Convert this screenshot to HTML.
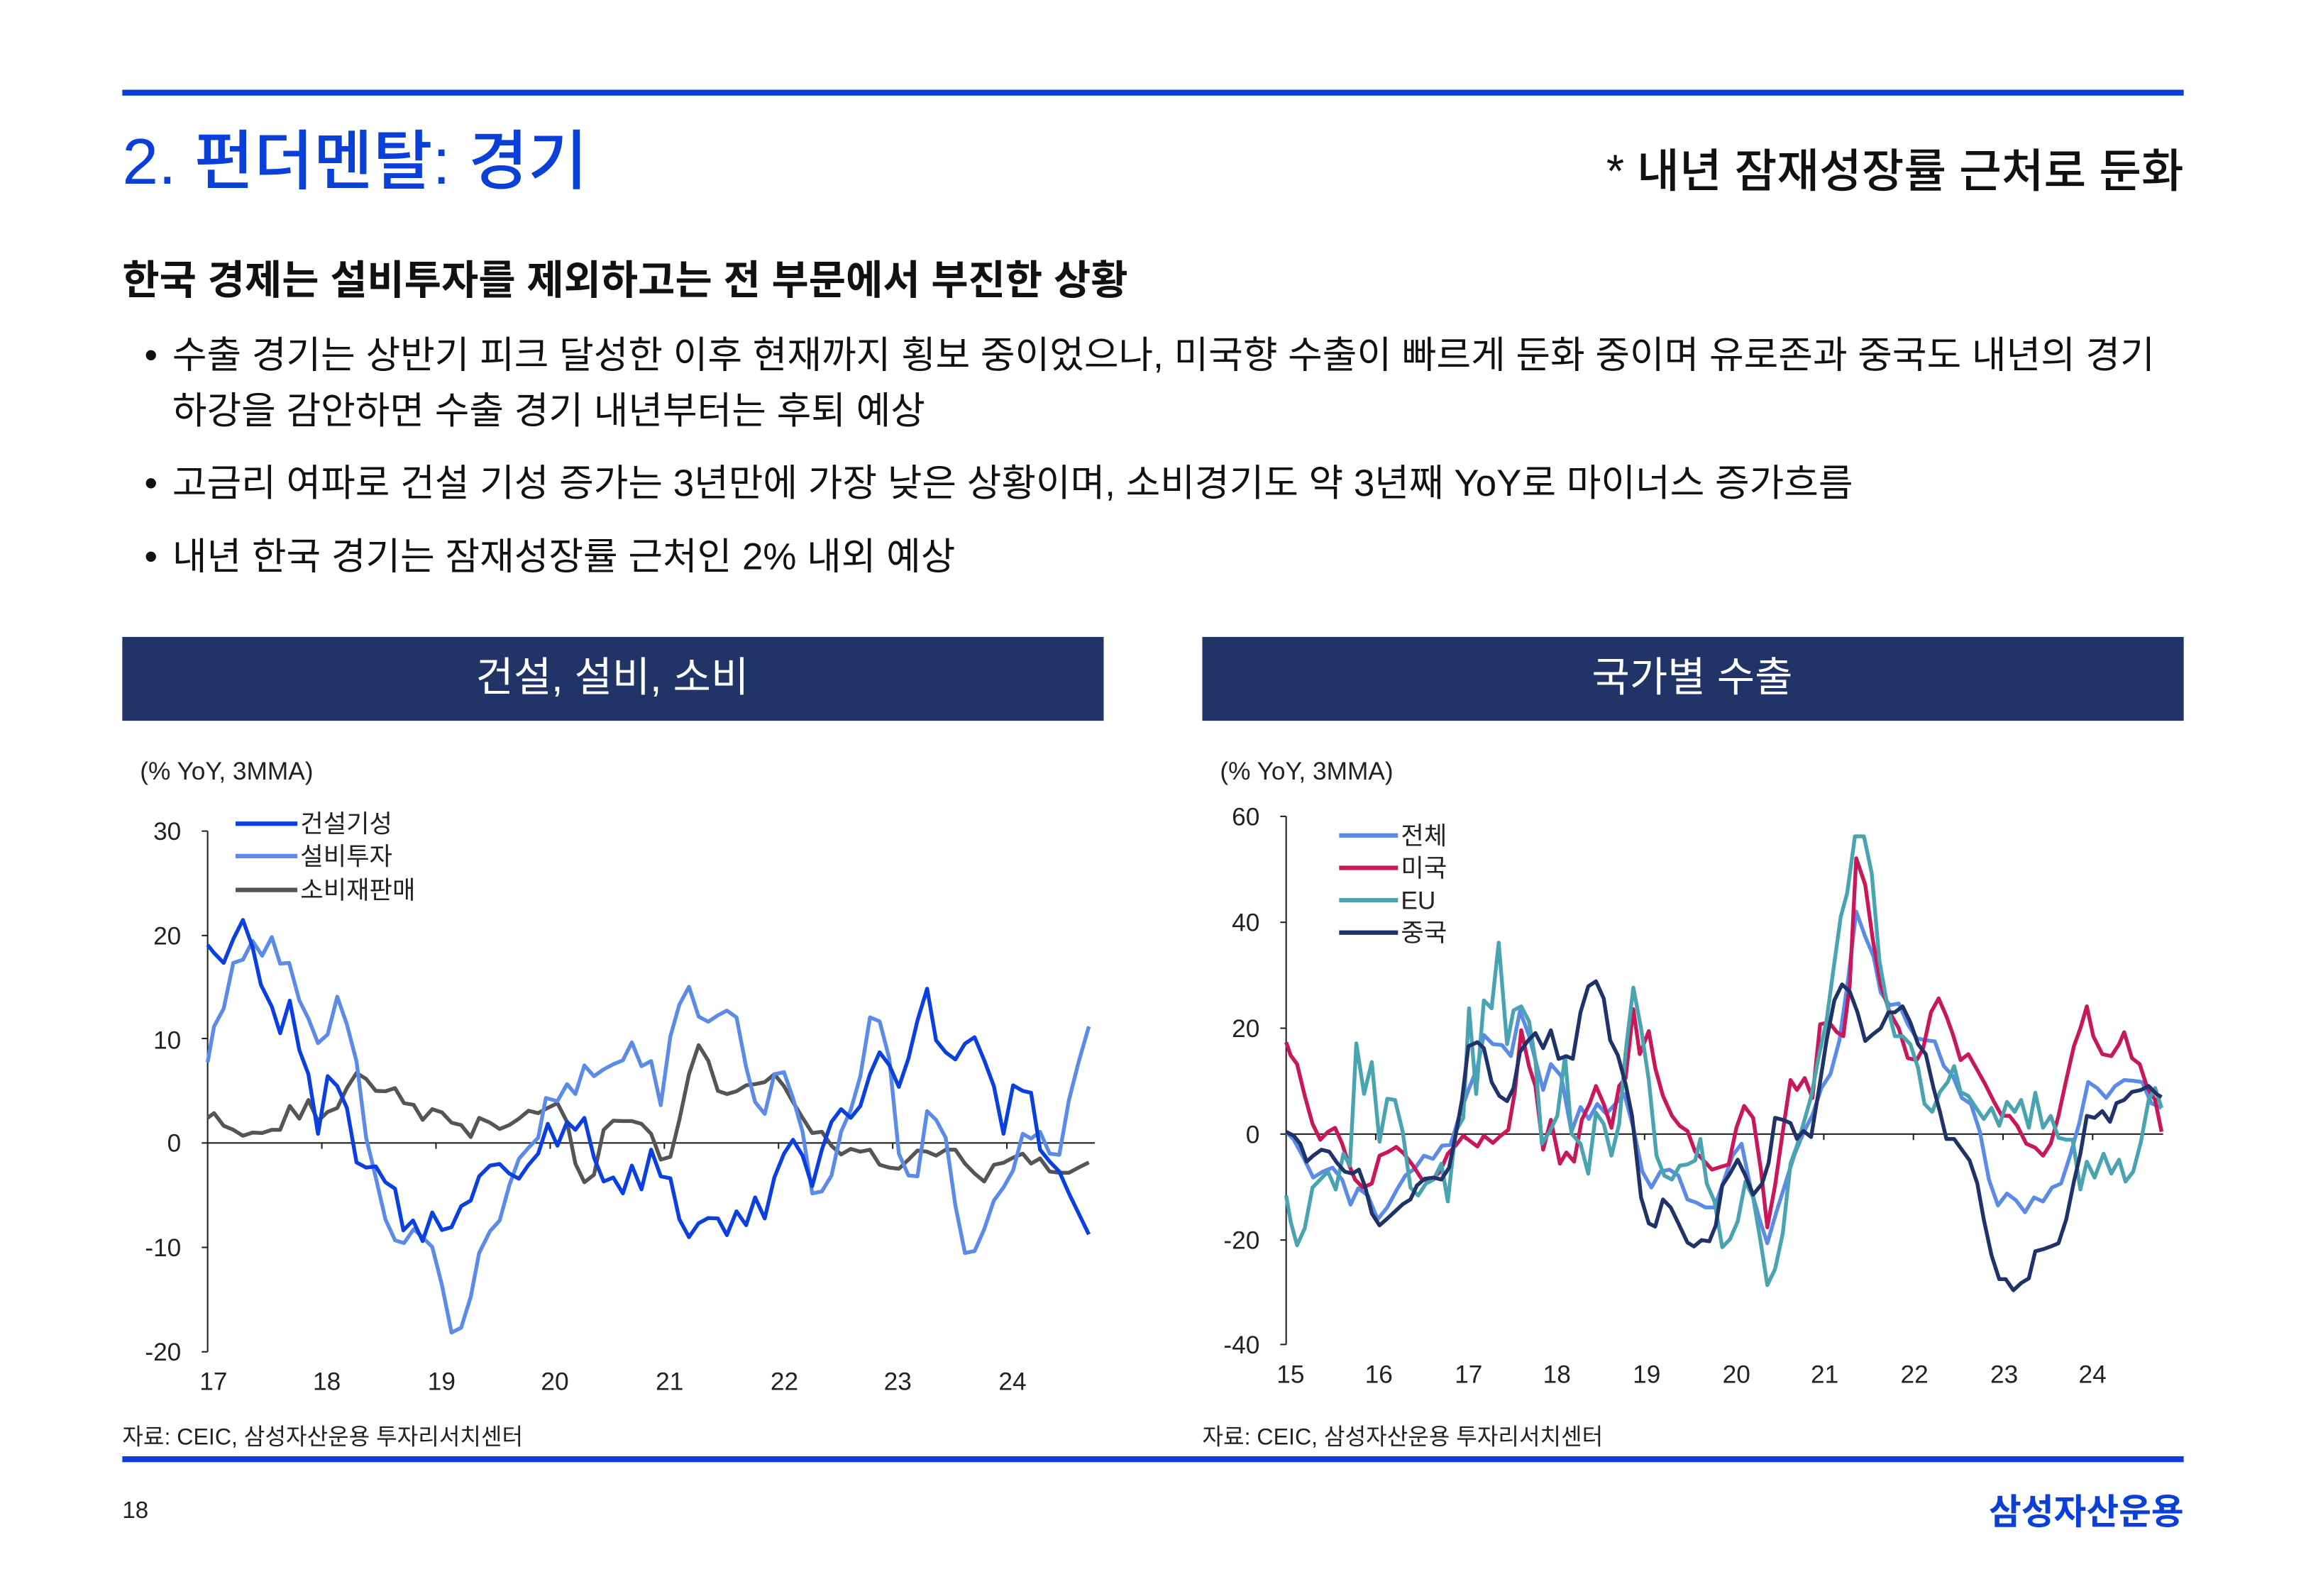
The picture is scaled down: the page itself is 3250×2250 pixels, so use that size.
<!DOCTYPE html>
<html><head><meta charset="utf-8"><style>
html,body{margin:0;padding:0;background:#fff}
svg{display:block}
text{font-family:"Liberation Sans","Noto Sans CJK KR",sans-serif}
</style></head><body>
<svg width="3250" height="2250" viewBox="0 0 1567 1085" xmlns="http://www.w3.org/2000/svg">
<rect width="1567" height="1085" fill="#fff"/>
<rect x="83" y="61" width="1401" height="4" fill="#0a3fd8"/>
<text x="83" y="125" font-size="44" fill="#0a3fd8" font-weight="500">2. 펀더멘탈: 경기</text>
<text x="1484" y="127" font-size="31.3" fill="#111" text-anchor="end" font-weight="500">* 내년 잠재성장률 근처로 둔화</text>
<text x="83" y="200" font-size="27.4" fill="#111" font-weight="600">한국 경제는 설비투자를 제외하고는 전 부문에서 부진한 상황</text>
<g font-size="25.5" fill="#111">
<text x="98" y="250">•</text><text x="117" y="250">수출 경기는 상반기 피크 달성한 이후 현재까지 횡보 중이었으나, 미국향 수출이 빠르게 둔화 중이며 유로존과 중국도 내년의 경기</text>
<text x="117" y="288">하강을 감안하면 수출 경기 내년부터는 후퇴 예상</text>
<text x="98" y="337">•</text><text x="117" y="337">고금리 여파로 건설 기성 증가는 3년만에 가장 낮은 상황이며, 소비경기도 약 3년째 YoY로 마이너스 증가흐름</text>
<text x="98" y="387">•</text><text x="117" y="387">내년 한국 경기는 잠재성장률 근처인 2% 내외 예상</text>
</g>
<rect x="83" y="433" width="667" height="57" fill="#213468"/>
<rect x="817" y="433" width="667" height="57" fill="#213468"/>
<text x="416" y="470" font-size="28" fill="#fff" text-anchor="middle">건설, 설비, 소비</text>
<text x="1150" y="470" font-size="28" fill="#fff" text-anchor="middle">국가별 수출</text>

<!-- LEFT CHART -->
<g font-size="17" fill="#222">
<text x="95" y="530">(% YoY, 3MMA)</text>
<g text-anchor="end"><text x="123" y="571">30</text><text x="123" y="642">20</text><text x="123" y="713">10</text><text x="123" y="783">0</text><text x="123" y="854">-10</text><text x="123" y="925">-20</text></g>
<g text-anchor="middle"><text x="145" y="945">17</text><text x="222" y="945">18</text><text x="300" y="945">19</text><text x="377" y="945">20</text><text x="455" y="945">21</text><text x="533" y="945">22</text><text x="610" y="945">23</text><text x="688" y="945">24</text></g>
</g>
<g stroke="#222" stroke-width="1">
<line x1="141" y1="565" x2="141" y2="919"/>
<line x1="137" y1="565" x2="141" y2="565"/><line x1="137" y1="636" x2="141" y2="636"/><line x1="137" y1="706" x2="141" y2="706"/><line x1="137" y1="848" x2="141" y2="848"/><line x1="137" y1="919" x2="141" y2="919"/>
<line x1="137" y1="777" x2="744" y2="777"/>
<line x1="218.6" y1="777" x2="218.6" y2="781"/><line x1="296.2" y1="777" x2="296.2" y2="781"/><line x1="373.8" y1="777" x2="373.8" y2="781"/><line x1="451.4" y1="777" x2="451.4" y2="781"/><line x1="529" y1="777" x2="529" y2="781"/><line x1="606.6" y1="777" x2="606.6" y2="781"/><line x1="684.2" y1="777" x2="684.2" y2="781"/>
</g>
<g fill="none" stroke-width="5.4" stroke-linejoin="round" transform="translate(82.11,530.3) scale(0.4362,0.2702)">
<polyline vector-effect="non-scaling-stroke" stroke="#555" points="135,850 145,838 160,870 175,880 190,895 205,887 220,888 235,880 248,880 263,820 278,852 292,805 307,858 322,835 337,825 352,775 367,737 382,752 397,782 412,783 427,775 441,813 456,817 470,855 485,828 500,836 515,862 530,868 545,898 558,850 575,862 590,878 605,868 620,852 635,832 650,838 665,825 680,813 695,860 708,965 722,1012 737,993 752,880 767,857 782,858 796,858 811,865 826,890 841,955 856,948 870,855 885,740 900,667 915,706 930,782 944,790 959,783 974,768 988,765 1003,760 1018,740 1033,770 1047,810 1062,850 1077,888 1092,885 1107,920 1122,942 1137,928 1152,935 1167,930 1182,968 1197,975 1212,978 1227,955 1241,932 1256,935 1270,945 1285,930 1300,930 1315,965 1330,990 1345,1010 1360,968 1375,963 1390,950 1405,940 1418,965 1432,952 1447,985 1462,988 1477,988 1492,975 1508,962"/>
<polyline vector-effect="non-scaling-stroke" stroke="#5b8be6" points="135,710 145,620 160,575 175,460 190,452 205,405 220,442 235,395 248,462 262,460 278,555 292,600 307,662 322,640 337,545 352,615 367,708 382,900 397,1000 412,1105 427,1158 441,1165 456,1130 470,1150 485,1175 500,1270 515,1390 530,1378 545,1300 558,1190 575,1135 590,1108 605,1020 620,953 635,925 650,900 662,800 680,808 695,765 708,790 722,718 737,745 752,728 767,715 782,705 796,660 811,720 826,707 841,818 856,645 870,565 885,520 900,595 915,608 930,592 944,580 959,597 974,722 988,810 1003,840 1018,740 1033,735 1047,800 1062,885 1077,1040 1092,1035 1107,995 1122,885 1137,830 1152,745 1167,597 1182,607 1197,700 1212,940 1227,995 1241,997 1256,833 1270,855 1285,900 1300,1070 1315,1190 1330,1185 1345,1130 1360,1058 1375,1025 1390,982 1405,890 1418,902 1432,885 1447,940 1462,943 1477,805 1492,710 1508,620"/>
<polyline vector-effect="non-scaling-stroke" stroke="#0a3fe0" points="135,415 145,435 160,460 175,400 190,352 205,420 218,515 235,570 248,637 263,555 278,680 292,740 307,890 322,745 337,770 352,825 367,962 382,975 397,972 412,1012 427,1028 440,1133 455,1108 470,1160 485,1088 500,1132 515,1125 530,1072 545,1058 558,997 575,970 590,966 605,990 620,1003 635,968 650,940 665,865 680,920 695,860 708,880 722,850 737,950 752,1010 767,1000 782,1040 796,970 811,1030 826,930 841,997 856,1002 870,1105 885,1150 900,1115 915,1102 930,1103 944,1145 959,1085 974,1120 988,1050 1003,1103 1018,1000 1033,940 1047,905 1062,945 1077,1022 1092,930 1107,860 1122,828 1137,850 1152,820 1167,740 1182,685 1197,717 1212,772 1227,700 1241,605 1256,525 1270,655 1285,685 1300,703 1315,663 1330,647 1345,705 1360,770 1375,890 1390,768 1405,782 1418,787 1432,930 1447,960 1462,985 1477,1040 1492,1090 1508,1143"/>
</g>
<g stroke-width="3">
<line x1="160" y1="560" x2="202" y2="560" stroke="#0a3fe0"/>
<line x1="160" y1="582" x2="202" y2="582" stroke="#5b8be6"/>
<line x1="160" y1="605" x2="202" y2="605" stroke="#555"/>
</g>
<g font-size="17" fill="#222"><text x="204" y="566">건설기성</text><text x="204" y="588">설비투자</text><text x="204" y="611">소비재판매</text></g>

<!-- RIGHT CHART -->
<g font-size="17" fill="#222">
<text x="829" y="530">(% YoY, 3MMA)</text>
<g text-anchor="end"><text x="856" y="561">60</text><text x="856" y="633">40</text><text x="856" y="705">20</text><text x="856" y="777">0</text><text x="856" y="849">-20</text><text x="856" y="920">-40</text></g>
<g text-anchor="middle"><text x="877" y="940">15</text><text x="937" y="940">16</text><text x="998" y="940">17</text><text x="1058" y="940">18</text><text x="1119" y="940">19</text><text x="1180" y="940">20</text><text x="1240" y="940">21</text><text x="1301" y="940">22</text><text x="1362" y="940">23</text><text x="1422" y="940">24</text></g>
</g>
<g stroke="#222" stroke-width="1">
<line x1="874" y1="555" x2="874" y2="914"/>
<line x1="870" y1="555" x2="874" y2="555"/><line x1="870" y1="627" x2="874" y2="627"/><line x1="870" y1="699" x2="874" y2="699"/><line x1="870" y1="843" x2="874" y2="843"/><line x1="870" y1="914" x2="874" y2="914"/>
<line x1="870" y1="771" x2="1470" y2="771"/>
<line x1="934.9" y1="771" x2="934.9" y2="775"/><line x1="995.8" y1="771" x2="995.8" y2="775"/><line x1="1056.7" y1="771" x2="1056.7" y2="775"/><line x1="1117.6" y1="771" x2="1117.6" y2="775"/><line x1="1178.5" y1="771" x2="1178.5" y2="775"/><line x1="1239.4" y1="771" x2="1239.4" y2="775"/><line x1="1300.3" y1="771" x2="1300.3" y2="775"/><line x1="1361.2" y1="771" x2="1361.2" y2="775"/><line x1="1422.1" y1="771" x2="1422.1" y2="775"/>
</g>
<g fill="none" stroke-width="5.4" stroke-linejoin="round" transform="translate(824.5,531.2) scale(0.4378,0.2707)">
<polyline vector-effect="non-scaling-stroke" stroke="#5b8be6" points="113,880 125,900 140,945 155,995 170,980 185,970 200,1000 213,1063 225,1022 240,1040 255,1100 270,1070 285,1025 298,990 313,972 327,940 341,948 355,915 368,913 382,840 396,775 410,718 420,637 434,660 448,662 462,690 476,577 490,638 500,700 512,775 524,710 540,740 556,880 570,818 583,848 596,810 610,835 624,810 638,785 652,870 666,980 680,1020 694,980 708,975 722,990 736,1050 750,1058 764,1070 778,1070 792,1005 806,940 820,910 834,1020 848,1100 860,1160 874,1082 888,1010 902,938 916,883 930,838 944,770 958,735 972,650 986,490 998,327 1012,390 1025,440 1036,530 1050,562 1064,558 1078,610 1092,645 1106,650 1120,653 1134,715 1148,740 1162,795 1176,810 1190,880 1204,1000 1218,1065 1232,1035 1246,1052 1260,1082 1274,1045 1288,1055 1302,1020 1316,1010 1330,940 1344,860 1358,755 1372,770 1386,795 1400,765 1414,750 1428,752 1442,755 1456,808 1472,820"/>
<polyline vector-effect="non-scaling-stroke" stroke="#c8185a" points="113,655 120,688 130,710 142,790 154,860 166,900 178,880 189,870 200,910 210,960 220,1000 232,1020 246,1010 258,940 272,930 284,918 296,935 310,965 324,1000 338,1003 352,980 364,935 376,915 388,890 400,905 410,917 420,890 434,908 446,890 458,875 468,780 478,625 490,715 500,765 512,925 524,850 538,960 548,932 560,955 572,850 584,810 594,765 606,810 618,870 630,765 640,745 652,572 662,685 676,627 686,720 698,790 712,840 724,865 736,878 748,930 760,950 774,975 788,968 800,962 812,870 824,815 838,845 850,975 860,1120 872,1015 884,880 896,750 906,775 918,745 930,795 942,610 956,605 968,630 978,640 988,510 998,193 1012,260 1024,400 1036,510 1050,580 1064,620 1078,695 1092,700 1102,670 1114,580 1126,545 1138,590 1148,635 1160,700 1172,685 1186,725 1198,760 1212,805 1224,840 1236,840 1248,865 1262,910 1276,920 1288,940 1300,910 1312,840 1324,750 1336,665 1346,620 1356,565 1366,640 1380,685 1394,690 1406,660 1414,630 1426,695 1438,710 1450,770 1462,800 1472,880"/>
<polyline vector-effect="non-scaling-stroke" stroke="#4aa3b0" points="113,1040 120,1105 130,1165 142,1122 154,1020 166,1000 178,980 190,1025 202,935 212,965 222,658 234,785 246,705 258,905 270,797 282,800 294,880 306,1020 318,1040 330,1010 342,1000 354,960 364,1055 376,880 388,845 397,570 408,785 420,550 432,570 443,405 456,660 466,575 478,565 490,602 500,700 510,910 522,880 534,840 546,690 556,885 570,910 582,985 594,832 606,860 618,940 630,860 640,680 652,518 664,620 676,750 688,940 700,990 712,1000 724,965 736,962 748,952 756,898 766,1010 778,1055 790,1170 802,1150 814,1105 826,1005 838,1045 850,1160 860,1265 872,1225 884,1135 896,960 906,915 916,860 928,792 940,690 952,600 962,480 974,340 984,280 996,138 1010,138 1022,230 1034,450 1046,560 1058,640 1070,640 1082,660 1094,720 1104,810 1116,830 1128,780 1140,755 1150,715 1160,780 1172,790 1184,820 1196,848 1208,820 1220,865 1232,805 1244,830 1254,800 1266,870 1276,782 1288,870 1300,840 1312,895 1324,900 1334,900 1346,1025 1356,955 1368,995 1382,935 1394,985 1406,950 1416,1005 1428,980 1440,905 1452,800 1462,770 1472,820"/>
<polyline vector-effect="non-scaling-stroke" stroke="#1f3369" points="113,880 125,890 135,910 145,955 155,940 168,925 180,930 192,958 204,980 216,985 226,975 236,1020 246,1085 258,1115 270,1098 282,1080 294,1062 306,1050 316,1015 328,998 342,995 354,1000 366,970 376,890 386,800 396,665 410,655 420,670 432,755 444,790 456,803 466,770 476,680 488,652 500,632 512,670 524,625 536,697 548,690 558,697 570,580 582,515 594,502 606,545 616,650 628,688 640,760 650,840 664,1045 676,1110 686,1118 698,1050 710,1070 722,1110 736,1158 746,1168 758,1152 770,1155 780,1115 790,1015 802,985 814,950 826,990 838,1038 852,1010 862,958 872,845 884,850 896,858 906,898 916,878 928,893 940,775 952,650 964,550 976,510 988,528 1000,580 1012,652 1024,635 1036,620 1048,580 1058,580 1070,565 1082,605 1094,660 1106,685 1118,770 1128,830 1138,898 1150,898 1162,925 1174,952 1186,1010 1196,1100 1208,1190 1220,1250 1230,1250 1242,1278 1254,1260 1266,1248 1276,1180 1288,1175 1300,1168 1312,1160 1324,1100 1336,1005 1346,935 1356,840 1368,845 1380,828 1392,855 1402,808 1414,800 1426,780 1440,775 1452,765 1464,785 1472,793"/>
</g>
<g stroke-width="3">
<line x1="910" y1="568" x2="950" y2="568" stroke="#5b8be6"/>
<line x1="910" y1="590" x2="950" y2="590" stroke="#c8185a"/>
<line x1="910" y1="612" x2="950" y2="612" stroke="#4aa3b0"/>
<line x1="910" y1="634" x2="950" y2="634" stroke="#1f3369"/>
</g>
<g font-size="17" fill="#222"><text x="952" y="574">전체</text><text x="952" y="596">미국</text><text x="952" y="618">EU</text><text x="952" y="640">중국</text></g>

<text x="83" y="982" font-size="15.5" fill="#222">자료: CEIC, 삼성자산운용 투자리서치센터</text>
<text x="817" y="982" font-size="15.5" fill="#222">자료: CEIC, 삼성자산운용 투자리서치센터</text>
<rect x="83" y="990" width="1401" height="4" fill="#0a3fd8"/>
<text x="83" y="1032" font-size="16" fill="#222">18</text>
<text x="1484" y="1036" font-size="24" fill="#0a3fd8" font-weight="700" text-anchor="end">삼성자산운용</text>
</svg>
</body></html>
